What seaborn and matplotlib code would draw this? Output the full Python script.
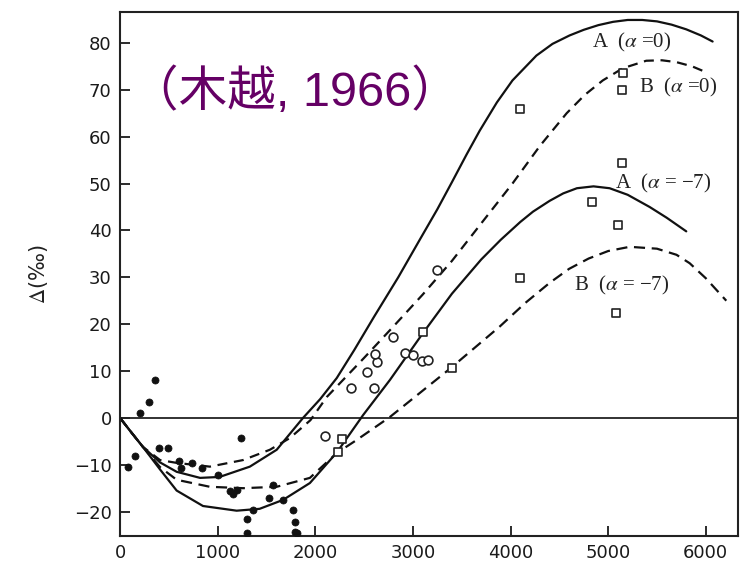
import numpy as np
import pandas as pd
import matplotlib
matplotlib.use("Agg")
import matplotlib.pyplot as plt
import seaborn as sns

# ---------------- data ----------------
# Curve A (alpha = 0), solid
a0_x = [0, 120, 235, 410, 580, 820, 1020, 1330, 1605, 1875, 2050, 2220, 2400, 2600, 2850, 3070, 3250, 3400, 3550, 3685, 3860, 4020, 4265, 4430, 4605, 4750, 4900, 5050, 5200, 5350, 5500, 5650, 5800, 5950, 6070]
a0_y = [0, -3.2, -6.2, -9.5, -11.5, -12.8, -12.6, -10.4, -6.8, 0, 4, 8.5, 14.5, 21.5, 30, 38, 44.5, 50.3, 56.2, 61.3, 67.3, 72, 77.3, 79.8, 81.6, 82.8, 83.8, 84.5, 84.9, 84.9, 84.6, 83.9, 82.9, 81.6, 80.3]
# Curve B (alpha = 0), dashed
b0_x = [0, 120, 235, 410, 580, 920, 1260, 1535, 1740, 1950, 2120, 2500, 2800, 3100, 3400, 3700, 4020, 4300, 4575, 4760, 4945, 5150, 5390, 5550, 5700, 5860, 6020]
b0_y = [0, -3.2, -6.2, -9, -9.6, -10.4, -9, -6.8, -4.3, -0.5, 4.5, 12.8, 19.5, 26.3, 33.5, 41.5, 50, 58, 65, 68.9, 72, 74.6, 76.2, 76.3, 75.9, 75, 73.6]
# Curve A (alpha = -7), solid
a7_x = [0, 120, 235, 410, 580, 850, 1195, 1430, 1670, 1945, 2220, 2490, 2765, 3100, 3400, 3700, 3900, 4100, 4230, 4400, 4540, 4680, 4850, 5015, 5200, 5425, 5600, 5800]
a7_y = [0, -3.2, -6.2, -11, -15.5, -18.8, -19.8, -19.4, -17.5, -13.9, -7.4, 0.6, 8.1, 18, 26.5, 33.8, 38, 41.8, 44, 46.3, 47.9, 49, 49.4, 49, 47.6, 45, 42.7, 39.8]
# Curve B (alpha = -7), dashed
b7_x = [0, 120, 235, 410, 580, 920, 1260, 1605, 1945, 2220, 2425, 2765, 3070, 3380, 3890, 4150, 4400, 4600, 4800, 5000, 5220, 5500, 5700, 5835, 6000, 6210]
b7_y = [0, -3.2, -6.2, -10.5, -13.2, -14.7, -15, -14.7, -12.8, -7.5, -4.7, 0.2, 5.3, 10.5, 19.5, 24.5, 28.8, 31.8, 34, 35.6, 36.5, 36.1, 34.8, 33, 29.8, 25]

# filled circles
dot_x = [80, 155, 205, 300, 360, 400, 490, 600, 620, 740, 845, 1005, 1235, 1125, 1160, 1200, 1300, 1360, 1300, 1570, 1530, 1670, 1775, 1790, 1790, 1810]
dot_y = [-10.5, -8.2, 1, 3.4, 8.1, -6.4, -6.4, -9.1, -10.7, -9.6, -10.7, -12.2, -4.3, -15.5, -16.2, -15.3, -21.6, -19.6, -24.5, -14.3, -17, -17.5, -19.6, -22.2, -24.4, -24.6]
# open circles
circ_x = [2100, 2370, 2530, 2600, 2630, 2610, 2795, 2915, 3000, 3090, 3155, 3245]
circ_y = [-3.8, 6.3, 9.8, 6.3, 12, 13.6, 17.3, 13.8, 13.4, 12.2, 12.4, 31.6]
# open squares
sq_x = [2235, 2270, 3100, 3400, 4095, 5150, 5140, 5140, 4830, 5100, 4095, 5085]
sq_y = [-7.3, -4.6, 18.3, 10.7, 65.9, 73.5, 70, 54.4, 46, 41.2, 29.8, 22.4]

curve_labels = ["A  ($\\alpha$ =0)", "B  ($\\alpha$ =0)", "A  ($\\alpha$ = \u22127)", "B  ($\\alpha$ = \u22127)"]
label_x = [4830, 5320, 5070, 4650]
label_y = [80, 70.4, 50, 28.2]

x_ticks = [0, 1000, 2000, 3000, 4000, 5000, 6000]
y_ticks = [-20, -10, 0, 10, 20, 30, 40, 50, 60, 70, 80]

# ---------------- plot ----------------
sns.set_style("ticks")
plt.rcParams["mathtext.fontset"] = "stix"

fig = plt.figure(figsize=(7.4, 5.65), dpi=100)
ax = fig.add_axes([120 / 740, 29 / 565, 618 / 740, 524 / 565])

ax.axhline(0, color="#222222", lw=1.3, zorder=1)

lw = 1.6
sns.lineplot(x=a0_x, y=a0_y, color="#111111", lw=lw, ax=ax, sort=False, estimator=None)
sns.lineplot(x=b0_x, y=b0_y, color="#111111", lw=lw, ax=ax, sort=False, estimator=None,
             linestyle=(0, (4.5, 3)))
sns.lineplot(x=a7_x, y=a7_y, color="#111111", lw=lw, ax=ax, sort=False, estimator=None)
sns.lineplot(x=b7_x, y=b7_y, color="#111111", lw=lw, ax=ax, sort=False, estimator=None,
             linestyle=(0, (5, 3)))

sns.scatterplot(x=dot_x, y=dot_y, marker="o", color="#111111", edgecolor="#111111",
                s=26, linewidth=0.5, ax=ax, zorder=5)
sns.scatterplot(x=circ_x, y=circ_y, marker="o", color="white", edgecolor="#222222",
                s=40, linewidth=1.2, ax=ax, zorder=5)
sns.scatterplot(x=sq_x, y=sq_y, marker="s", color="white", edgecolor="#222222",
                s=30, linewidth=1.2, ax=ax, zorder=5)

for t, lx, ly in zip(curve_labels, label_x, label_y):
    ax.text(lx, ly, t, fontsize=15, family="Liberation Serif", color="#222222",
            va="center", ha="left", zorder=6)

ax.set_xlim(0, 6330)
ax.set_ylim(-25.2, 86.6)
ax.set_xticks(x_ticks)
ax.set_yticks(y_ticks)
ax.tick_params(direction="in", length=7, width=1.3, labelsize=13, colors="#1a1a1a", pad=6)
for s in ax.spines.values():
    s.set_visible(True)
    s.set_linewidth(1.5)
    s.set_color("#222222")

ax.set_xlabel("")
ax.set_ylabel("$\\mathit{\\Delta}$(\u2030)", fontsize=15, color="#222222", labelpad=17)

fig.text(130 / 740, 1 - 92 / 565, "\uff08木越, 1966\uff09", fontsize=35,
         family=["Liberation Sans", "Noto Sans CJK SC"], color="#650065",
         va="center", ha="left")

fig.savefig("out.png", dpi=100, facecolor="white")
